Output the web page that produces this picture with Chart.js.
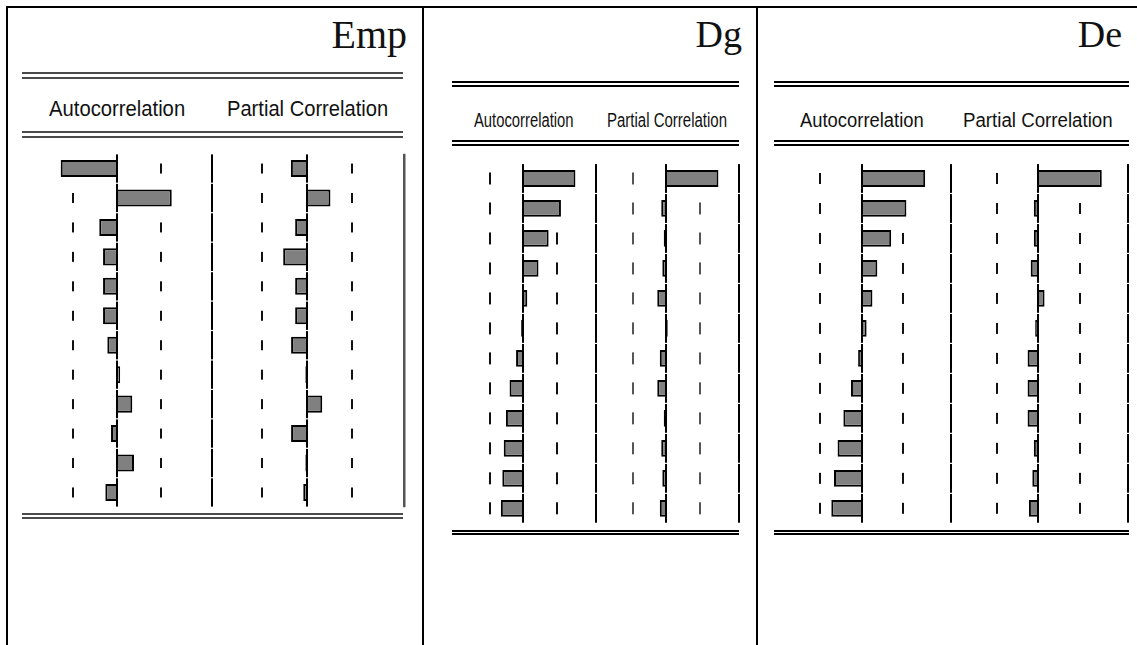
<!DOCTYPE html>
<html>
<head>
<meta charset="utf-8">
<script src="https://cdn.jsdelivr.net/npm/chart.js@4/dist/chart.umd.min.js"></script>
<style>
  html, body { margin: 0; padding: 0; background: #fff; }
  #page { position: relative; width: 1137px; height: 645px; overflow: hidden; background: #fff; }
  .rule { position: absolute; background: #000; }
  .title { position: absolute; font-family: "Liberation Serif", "Times New Roman", serif; line-height: 1; color: #111; white-space: nowrap; }
  .head { position: absolute; font-family: "Liberation Sans", Arial, sans-serif; line-height: 1; color: #111; white-space: nowrap; transform-origin: 0 0; }
  canvas { position: absolute; }
</style>
</head>
<body>
<div id="page"></div>
<script>
// Lags shown in each correlogram
const lags = [1, 2, 3, 4, 5, 6, 7, 8, 9, 10, 11, 12];

// Emp: autocorrelation and partial autocorrelation
const empAcf  = [-0.596, 0.573, -0.19, -0.15, -0.15, -0.15, -0.105, 0.03, 0.158, -0.066, 0.176, -0.126];
const empPacf = [-0.17, 0.24, -0.126, -0.25, -0.126, -0.126, -0.168, -0.02, 0.155, -0.168, -0.02, -0.042];

// Dg
const dgAcf  = [0.72, 0.52, 0.35, 0.21, 0.055, -0.03, -0.10, -0.19, -0.24, -0.27, -0.29, -0.31];
const dgPacf = [0.72, -0.07, -0.035, -0.055, -0.125, 0.02, -0.09, -0.125, -0.035, -0.07, -0.055, -0.09];

// De
const deAcf  = [0.71, 0.50, 0.33, 0.175, 0.12, 0.055, -0.04, -0.12, -0.205, -0.27, -0.31, -0.34];
const dePacf = [0.71, -0.05, -0.05, -0.085, 0.07, -0.035, -0.12, -0.12, -0.12, -0.05, -0.067, -0.105];

// Approximate 95% bands (±2/√T) for each series
const empBand = 0.465;
const dgBand = 0.46;
const deBand = 0.464;

const page = document.getElementById('page');

function rule(x, y, w, h, color) {
  const d = document.createElement('div');
  d.className = 'rule';
  Object.assign(d.style, { left: x + 'px', top: y + 'px', width: w + 'px', height: h + 'px' });
  if (color) d.style.background = color;
  page.appendChild(d);
}

function text(cls, str, css) {
  const d = document.createElement('div');
  d.className = cls;
  d.textContent = str;
  Object.assign(d.style, css);
  page.appendChild(d);
}

// Table frame
rule(6, 6, 1131, 2);
rule(6, 6, 2, 639);
rule(422, 6, 2, 639);
rule(756, 6, 2, 639);

// Panel titles
text('title', 'Emp', { right: (1137 - 407) + 'px', top: '15px', fontSize: '40px' });
text('title', 'Dg',  { right: (1137 - 742) + 'px', top: '15px', fontSize: '38px' });
text('title', 'De',  { right: (1137 - 1122) + 'px', top: '15px', fontSize: '38px' });

// Double rules around the column headers and under the rows
function doubleRule(x1, x2, y, gap, color) {
  rule(x1, y, x2 - x1, 2, color);
  rule(x1, y + gap, x2 - x1, 2, color);
}
doubleRule(22, 403, 72, 5, '#4a4a4a');
doubleRule(22, 403, 131, 5, '#4a4a4a');
doubleRule(22, 403, 513, 4, '#4a4a4a');
doubleRule(452, 739, 81, 4);
doubleRule(452, 739, 140, 4);
doubleRule(452, 739, 530, 3);
doubleRule(774, 1129, 81, 4);
doubleRule(774, 1129, 140, 4);
doubleRule(774, 1129, 530, 3);

// Column headers
function header(str, x, baseline, size, sx) {
  text('head', str, {
    left: x + 'px',
    top: (baseline - 0.8465 * size) + 'px',
    fontSize: size + 'px',
    transform: 'scaleX(' + sx + ')'
  });
}
header('Autocorrelation', 49, 116.5, 22, 0.92);
header('Partial Correlation', 227, 116.5, 22, 0.915);
header('Autocorrelation', 474, 127, 20, 0.74);
header('Partial Correlation', 607, 127, 20, 0.75);
header('Autocorrelation', 800, 127, 20, 0.92);
header('Partial Correlation', 963, 127, 20, 0.935);

// Guides drawn for each lag row: confidence dashes, zero line and the closing rule
const corrGuides = {
  id: 'corrGuides',
  beforeDatasetsDraw(chart, args, o) {
    const { ctx, scales: { x, y } } = chart;
    ctx.save();
    ctx.fillStyle = o.dashColor;
    chart.data.labels.forEach((_, i) => {
      const cy = y.getPixelForValue(i);
      [-1, 1].forEach(s => {
        const px = x.getPixelForValue(s * o.band);
        ctx.fillRect(Math.round(px) - 1, cy - o.dashH / 2, 2, o.dashH);
      });
    });
    ctx.restore();
  },
  afterDatasetsDraw(chart, args, o) {
    const { ctx, chartArea, scales: { x, y } } = chart;
    const n = chart.data.labels.length;
    const rowH = chartArea.height / n;
    const x0 = Math.round(x.getPixelForValue(0));
    const xr = Math.round(chartArea.right);
    ctx.save();
    chart.data.labels.forEach((_, i) => {
      const cy = y.getPixelForValue(i);
      const t = cy - rowH / 2 + 0.6;
      const h = rowH - 1.2;
      ctx.fillStyle = '#000';
      ctx.fillRect(x0 - 1, t, 2, h);
      if (o.segmented) {
        ctx.fillStyle = o.ruleColor;
        ctx.fillRect(xr - 1, t, o.ruleWidth, h);
      }
    });
    if (!o.segmented) {
      ctx.fillStyle = o.ruleColor;
      ctx.fillRect(xr - 1, chartArea.top, o.ruleWidth, chartArea.height);
    }
    ctx.restore();
  }
};

function correlogram(values, g) {
  const padX = 4, padY = 2;
  const left = Math.floor(g.zero - g.unit) - padX;
  const right = Math.ceil(g.zero + g.unit) + padX;
  const top = Math.floor(g.rowsTop) - padY;
  const bottom = Math.ceil(g.rowsBottom) + padY;
  const cv = document.createElement('canvas');
  cv.width = right - left;
  cv.height = bottom - top;
  cv.style.left = left + 'px';
  cv.style.top = top + 'px';
  page.appendChild(cv);
  new Chart(cv, {
    type: 'bar',
    data: {
      labels: lags,
      datasets: [{
        data: values,
        backgroundColor: '#808080',
        borderColor: '#000',
        borderWidth: 2,
        barPercentage: g.barPct,
        categoryPercentage: 1
      }]
    },
    options: {
      indexAxis: 'y',
      responsive: false,
      animation: false,
      events: [],
      layout: {
        padding: {
          left: (g.zero - g.unit) - left,
          right: right - (g.zero + g.unit),
          top: g.rowsTop - top,
          bottom: bottom - g.rowsBottom
        }
      },
      scales: {
        x: { display: false, min: -1, max: 1 },
        y: { display: false }
      },
      plugins: {
        legend: { display: false },
        tooltip: { enabled: false },
        corrGuides: {
          band: g.band,
          dashColor: g.dashColor,
          dashH: g.dashH,
          ruleColor: g.ruleColor,
          ruleWidth: g.ruleWidth,
          segmented: g.segmented
        }
      }
    },
    plugins: [corrGuides]
  });
}

// Emp
correlogram(empAcf,  { zero: 117.3, unit: 95, rowsTop: 153.8, rowsBottom: 507.2, band: empBand, barPct: 0.58,
  dashColor: '#111', dashH: 10, ruleColor: '#000', ruleWidth: 2, segmented: true });
correlogram(empPacf, { zero: 307.3, unit: 96.5, rowsTop: 153.8, rowsBottom: 507.2, band: empBand, barPct: 0.58,
  dashColor: '#111', dashH: 10, ruleColor: '#555', ruleWidth: 2.5, segmented: false });

// Dg
correlogram(dgAcf,  { zero: 523.3, unit: 72.4, rowsTop: 163.5, rowsBottom: 523.3, band: dgBand, barPct: 0.56,
  dashColor: '#111', dashH: 12, ruleColor: '#000', ruleWidth: 2, segmented: true });
correlogram(dgPacf, { zero: 666.3, unit: 72.4, rowsTop: 163.5, rowsBottom: 523.3, band: dgBand, barPct: 0.56,
  dashColor: '#555', dashH: 12, ruleColor: '#000', ruleWidth: 2, segmented: true });

// De
correlogram(deAcf,  { zero: 861.7, unit: 89.4, rowsTop: 163.5, rowsBottom: 523.3, band: deBand, barPct: 0.56,
  dashColor: '#111', dashH: 11, ruleColor: '#000', ruleWidth: 2, segmented: true });
correlogram(dePacf, { zero: 1038.3, unit: 89.4, rowsTop: 163.5, rowsBottom: 523.3, band: deBand, barPct: 0.56,
  dashColor: '#111', dashH: 11, ruleColor: '#000', ruleWidth: 2, segmented: true });
</script>
</body>
</html>
